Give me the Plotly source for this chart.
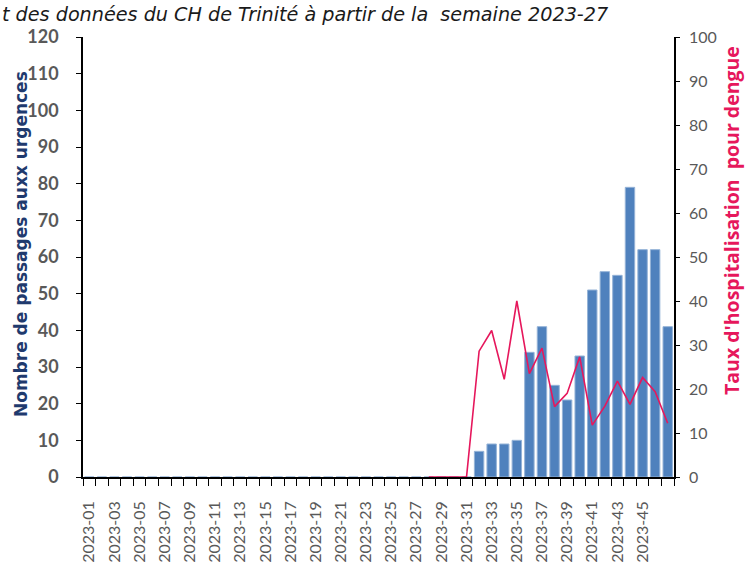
import plotly.graph_objects as go

weeks = [f"2023-{i:02d}" for i in range(1, 48)]
passages = [0] * 31 + [7, 9, 9, 10, 34, 41, 25, 21, 33, 51, 56, 55, 79, 62, 62, 41]
taux = [None] * 27 + [0, 0, 0, 0] + [28.6, 33.3, 22.2, 40.0, 23.5, 29.3, 16.0, 19.0, 27.3,
                                     11.8, 16.1, 21.8, 16.5, 22.6, 19.4, 12.2]
tick_labels = [w if (i % 2 == 0 and i < 45) else "" for i, w in enumerate(weeks)]
left_ticks = list(range(0, 121, 10))
right_ticks = list(range(0, 101, 10))

title_text = "t des données du CH de Trinité à partir de la&nbsp; semaine 2023-27"
left_title = "Nombre de passages auxx urgences"
right_title = "Taux d'hospitalisation&nbsp;&nbsp;pour dengue"

L, R, T, B = 83, 76, 37, 94
W, H = 750, 571
pw, ph = W - L - R, H - T - B

fig = go.Figure()
fig.add_trace(go.Bar(
    x=weeks, y=passages, marker=dict(color="#4F81BD", line=dict(color="#95B3D7", width=1)),
    yaxis="y", showlegend=False,
))
fig.add_trace(go.Scatter(
    x=weeks, y=taux, mode="lines", line=dict(color="#E6175C", width=1.6),
    yaxis="y2", showlegend=False, connectgaps=False,
))

fig.update_layout(
    width=W, height=H,
    margin=dict(l=L, r=R, t=T, b=B, autoexpand=False),
    paper_bgcolor="white", plot_bgcolor="white",
    bargap=0.25,
    xaxis=dict(
        type="category", tickmode="array", tickvals=weeks, ticktext=tick_labels,
        tickangle=-90, tickson="boundaries", ticks="outside", ticklen=7, tickcolor="black",
        showline=True, linecolor="black", linewidth=1.5, showgrid=False, automargin=False,
        tickfont=dict(family="Lato, Open Sans, sans-serif", size=16, color="#595959"),
        ticklabelstandoff=16,
        range=[-0.5, len(weeks) - 0.5],
    ),
    yaxis=dict(
        range=[0, 120], tickvals=left_ticks, showgrid=False, zeroline=False,
        showline=True, linecolor="black", linewidth=1.5, automargin=False,
        ticks="outside", ticklen=5, tickcolor="black",
        tickfont=dict(family="Lato, Open Sans, sans-serif", size=18, color="#595959", weight="bold"),
        ticklabelstandoff=14,
    ),
    yaxis2=dict(
        range=[0, 100], tickvals=right_ticks, overlaying="y", side="right",
        showgrid=False, zeroline=False, showline=True, linecolor="black", linewidth=1.5,
        ticks="outside", ticklen=4, tickcolor="black", automargin=False,
        tickfont=dict(family="Lato, Open Sans, sans-serif", size=16, color="#595959"),
        ticklabelstandoff=6,
    ),
    annotations=[
        dict(text=title_text, xref="paper", yref="paper",
             x=(0 - L) / pw, y=1 + (T - 14) / ph, xanchor="left", yanchor="middle",
             showarrow=False,
             font=dict(family="DejaVu Sans, sans-serif", size=19.2, color="#1a1a1a", style="italic")),
        dict(text=left_title, xref="paper", yref="paper",
             x=(21 - L) / pw, y=(H - B - 244) / ph, xanchor="center", yanchor="middle",
             textangle=-90, showarrow=False,
             font=dict(family="DejaVu Sans, sans-serif", size=17, color="#1F3A6E", weight="bold")),
        dict(text=right_title, xref="paper", yref="paper",
             x=(731 - L) / pw, y=(H - B - 221) / ph, xanchor="center", yanchor="middle",
             textangle=-90, showarrow=False,
             font=dict(family="Open Sans, sans-serif", size=19.5, color="#E6175C", weight="bold")),
    ],
)

fig.write_html("out.html", config={"displayModeBar": False},
               post_script="document.body.style.margin='0';document.body.style.overflow='hidden';")
